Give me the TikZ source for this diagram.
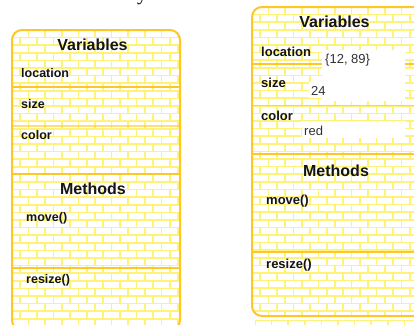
\documentclass[tikz,border=0pt]{standalone}
\usepackage{fontspec}
\setmainfont{Liberation Sans}
\newfontfamily\headserif{Liberation Serif}
\definecolor{mortar}{RGB}{255,242,120}
\definecolor{edgeline}{RGB}{255,198,40}
\definecolor{ink}{RGB}{20,20,20}
\definecolor{valink}{RGB}{50,50,50}
\newcommand\brickarea[4]{%
  \fill[mortar] (#1,#2) rectangle (#3,#4);
  \pgfmathtruncatemacro\nrows{((#4)-(#2))/7.6}
  \pgfmathtruncatemacro\ncols{((#3)-(#1))/16.6+1}
  \foreach \j in {0,...,\nrows}{
    \pgfmathsetmacro\yy{#2+\j*7.6}
    \pgfmathsetmacro\off{mod(\j,2)*8.3}
    \foreach \i in {0,...,\ncols}{
      \pgfmathsetmacro\xx{#1-\off+\i*16.6}
      \fill[white] (\xx+0.85,\yy+0.85) rectangle (\xx+15.75,\yy+6.75);
    }
  }
}
\tikzset{
  head/.style={font=\fontsize{16}{16}\selectfont\bfseries, text=ink, inner sep=0pt, anchor=base},
  lab/.style={font=\fontsize{12.5}{12.5}\selectfont\bfseries, text=ink, inner sep=0pt, anchor=base west},
  labr/.style={font=\fontsize{13}{13}\selectfont\bfseries, text=ink, inner sep=0pt, anchor=base west},
  val/.style={font=\fontsize{13}{13}\selectfont, text=valink, inner sep=0pt, anchor=base west},
  border/.style={draw=edgeline, line width=2pt, rounded corners=10pt},
  sepline/.style={draw=edgeline, line width=1.3pt},
  septhick/.style={draw=edgeline, line width=2pt},
}
\begin{document}
\begin{tikzpicture}[x=1pt,y=-1pt]
\useasboundingbox (0,0) rectangle (414,324);
% cut-off heading letter
\node[font=\headserif\fontsize{20}{20}\selectfont, inner sep=0pt, anchor=base] (ttl) at (142,0.5) {y};
% ---------- left box ----------
\begin{scope}
  \clip[rounded corners=10pt] (12,30) rectangle (180,330);
  \brickarea{12}{30}{180}{330}
\end{scope}
\draw[sepline] (12,87) -- (180,87);
\draw[sepline, draw opacity=0.6] (12,126) -- (180,126);
\draw[septhick] (12,174) -- (180,174);
\draw[sepline] (12,268) -- (180,268);
\draw[border] (12,30) rectangle (180,330);
\node[head] (lvar) at (92.5,50.5) {Variables};
\node[lab] (lloc) at (21,77.5) {location};
\node[lab] (lsize) at (21,108.5) {size};
\node[lab] (lcol) at (21,139.5) {color};
\node[head] (lmeth) at (93,194) {Methods};
\node[lab] (lmove) at (26,221.5) {move()};
\node[lab] (lres) at (26,283.5) {resize()};
% ---------- right box ----------
\begin{scope}
  \clip[rounded corners=10pt] (252,7) rectangle (424,316);
  \brickarea{252}{7}{424}{316}
\end{scope}
\draw[sepline] (252,64) -- (424,64);
\draw[sepline, draw opacity=0.7] (252,105.5) -- (424,105.5);
\draw[septhick] (252,154) -- (424,154);
\draw[sepline] (252,252) -- (424,252);
\fill[white] (322,50) rectangle (405,101);
\fill[white] (309,82) rectangle (323,98);
\fill[white] (302,121) rectangle (405,138);
\draw[border] (252,7) rectangle (424,316);
% bricks of the next box below
\begin{scope}
  \clip (255,320) rectangle (414,324);
  \brickarea{255}{320}{414}{330}
\end{scope}
\node[head] (rvar) at (334.5,27) {Variables};
\node[labr] (rloc) at (261,56.5) {location};
\node[val] (vloc) at (325,63.5) {\{12, 89\}};
\node[labr] (rsize) at (261,87) {size};
\node[val] (vsize) at (311,95.5) {24};
\node[labr] (rcol) at (261,120.5) {color};
\node[val] (vcol) at (304,135) {red};
\node[head] (rmeth) at (336,176) {Methods};
\node[labr] (rmove) at (266,204) {move()};
\node[labr] (rres) at (266,268.5) {resize()};
\end{tikzpicture}
\end{document}
